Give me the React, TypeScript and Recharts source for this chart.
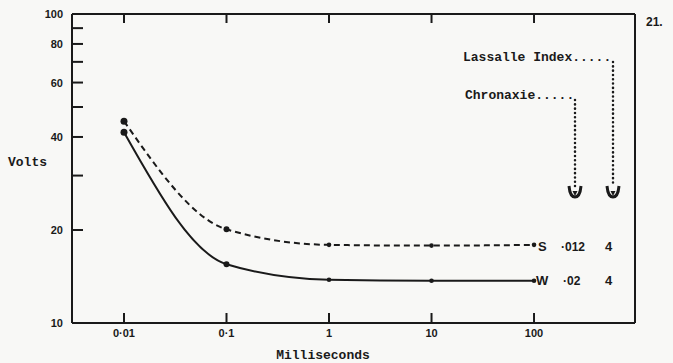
import { Line, LineChart, XAxis, YAxis } from 'recharts';

// stimulus duration (ms) and threshold voltages
const durations = [0.01, 0.1, 1, 10, 100];
const sVolts = [45, 20.1, 17.9, 17.8, 17.9];
const wVolts = [41.4, 15.5, 13.8, 13.7, 13.7];

const xTicks = [0.01, 0.1, 1, 10, 100];
const xTickLabels = ['0·01', '0·1', '1', '10', '100'];
const yTicks = [10, 20, 30, 40, 50, 60, 70, 80, 90, 100];
const yLabelled = [10, 20, 40, 60, 80, 100];

const data = durations.map((ms, i) => ({ ms, s: sVolts[i], w: wVolts[i] }));

const INK = '#1a1a1a';
const HAND = '"Liberation Sans", Arial, sans-serif';
const TYPE = '"Liberation Mono", "DejaVu Sans Mono", monospace';

function BottomTick({ x, y, payload }: any) {
  const i = xTicks.indexOf(payload.value);
  return (
    <g>
      <line x1={x} x2={x} y1={y} y2={y - 10} stroke={INK} strokeWidth={2} />
      <text x={x} y={y + 14} textAnchor="middle" fontFamily={HAND} fontWeight="bold" fontSize={11} fill={INK}>
        {xTickLabels[i]}
      </text>
    </g>
  );
}

function TopTick({ x, y }: any) {
  return <line x1={x} x2={x} y1={y} y2={y + 9} stroke={INK} strokeWidth={2} />;
}

function LeftTick({ x, y, payload }: any) {
  const v = payload.value;
  return (
    <g>
      {v !== 10 && v !== 100 && <line x1={x} x2={x + 11} y1={y} y2={y} stroke={INK} strokeWidth={2} />}
      {yLabelled.includes(v) && (
        <text x={x - 9} y={y + 4} textAnchor="end" fontFamily={HAND} fontWeight="bold" fontSize={11} fill={INK}>
          {v}
        </text>
      )}
    </g>
  );
}

const dot = (props: any) => {
  const { cx, cy, index } = props;
  const r = index === 0 ? 3.5 : index === 1 ? 3 : 2.3;
  return <circle key={`d-${index}`} cx={cx} cy={cy} r={r} fill={INK} />;
};

function Arrow({ x }: { x: number }) {
  return (
    <g>
      <path d={`M${x - 6} 186 Q${x - 5} 197 ${x} 197 Q${x + 5} 197 ${x + 6} 186`} fill="none" stroke={INK} strokeWidth={3} />
      <path d={`M${x - 2.5} 191 L${x + 2.5} 191 L${x} 196 Z`} fill={INK} />
    </g>
  );
}

const xDomain = [0.00311, 966];

export default function App() {
  return (
    <div style={{ position: 'absolute', left: 0, top: 0, width: 673, height: 363, background: '#f8f8f6' }}>
      <LineChart width={673} height={363} data={data} margin={{ top: 13, right: 37, bottom: 39, left: 71 }}>
        <XAxis
          dataKey="ms"
          type="number"
          scale="log"
          domain={xDomain}
          allowDataOverflow
          ticks={xTicks}
          height={1}
          tickSize={0}
          tickMargin={0}
          tickLine={false}
          axisLine={{ stroke: INK, strokeWidth: 2 }}
          tick={<BottomTick />}
          interval={0}
        />
        <XAxis
          xAxisId="top"
          dataKey="ms"
          orientation="top"
          type="number"
          scale="log"
          domain={xDomain}
          allowDataOverflow
          ticks={xTicks}
          height={1}
          tickSize={0}
          tickMargin={0}
          tickLine={false}
          axisLine={{ stroke: INK, strokeWidth: 2 }}
          tick={<TopTick />}
          interval={0}
        />
        <YAxis
          type="number"
          scale="log"
          domain={[10, 100]}
          allowDataOverflow
          ticks={yTicks}
          width={1}
          tickSize={0}
          tickMargin={0}
          tickLine={false}
          axisLine={{ stroke: INK, strokeWidth: 2 }}
          tick={<LeftTick />}
          interval={0}
        />
        <YAxis
          yAxisId="right"
          orientation="right"
          type="number"
          scale="log"
          domain={[10, 100]}
          allowDataOverflow
          width={1}
          tick={false}
          tickLine={false}
          axisLine={{ stroke: INK, strokeWidth: 2 }}
        />
        <Line
          type="monotone"
          dataKey="s"
          stroke={INK}
          strokeWidth={2}
          strokeDasharray="6 4"
          dot={dot}
          activeDot={false}
          isAnimationActive={false}
        />
        <Line
          type="monotone"
          dataKey="w"
          stroke={INK}
          strokeWidth={2}
          dot={dot}
          activeDot={false}
          isAnimationActive={false}
        />
      </LineChart>
      <svg width={673} height={363} style={{ position: 'absolute', left: 0, top: 0, pointerEvents: 'none' }}>
        <text x={8} y={166} fontFamily={TYPE} fontWeight="bold" fontSize={13} fill={INK}>Volts</text>
        <text x={323} y={359} textAnchor="middle" fontFamily={TYPE} fontWeight="bold" fontSize={13} fill={INK}>Milliseconds</text>
        <text x={463} y={61} fontFamily={TYPE} fontWeight="bold" fontSize={13} fill={INK}>Lassalle Index.....</text>
        <text x={465} y={99} fontFamily={TYPE} fontWeight="bold" fontSize={13} fill={INK}>Chronaxie.....</text>
        <line x1={613} x2={613} y1={62} y2={186} stroke={INK} strokeWidth={2.5} strokeDasharray="0.1 4.2" strokeLinecap="round" />
        <line x1={575} x2={575} y1={100} y2={186} stroke={INK} strokeWidth={2.5} strokeDasharray="0.1 4.2" strokeLinecap="round" />
        <Arrow x={575} />
        <Arrow x={613} />
        <text x={646} y={26} fontFamily={HAND} fontWeight="bold" fontSize={12} fill={INK}>21.</text>
        <g fontFamily={HAND} fontWeight="bold" fill={INK}>
          <text x={538} y={251} fontSize={13}>S</text>
          <text x={561} y={251} fontSize={12}>·012</text>
          <text x={605} y={251} fontSize={13}>4</text>
          <text x={536} y={285} fontSize={13}>W</text>
          <text x={563} y={285} fontSize={12}>·02</text>
          <text x={605} y={285} fontSize={13}>4</text>
        </g>
      </svg>
    </div>
  );
}
